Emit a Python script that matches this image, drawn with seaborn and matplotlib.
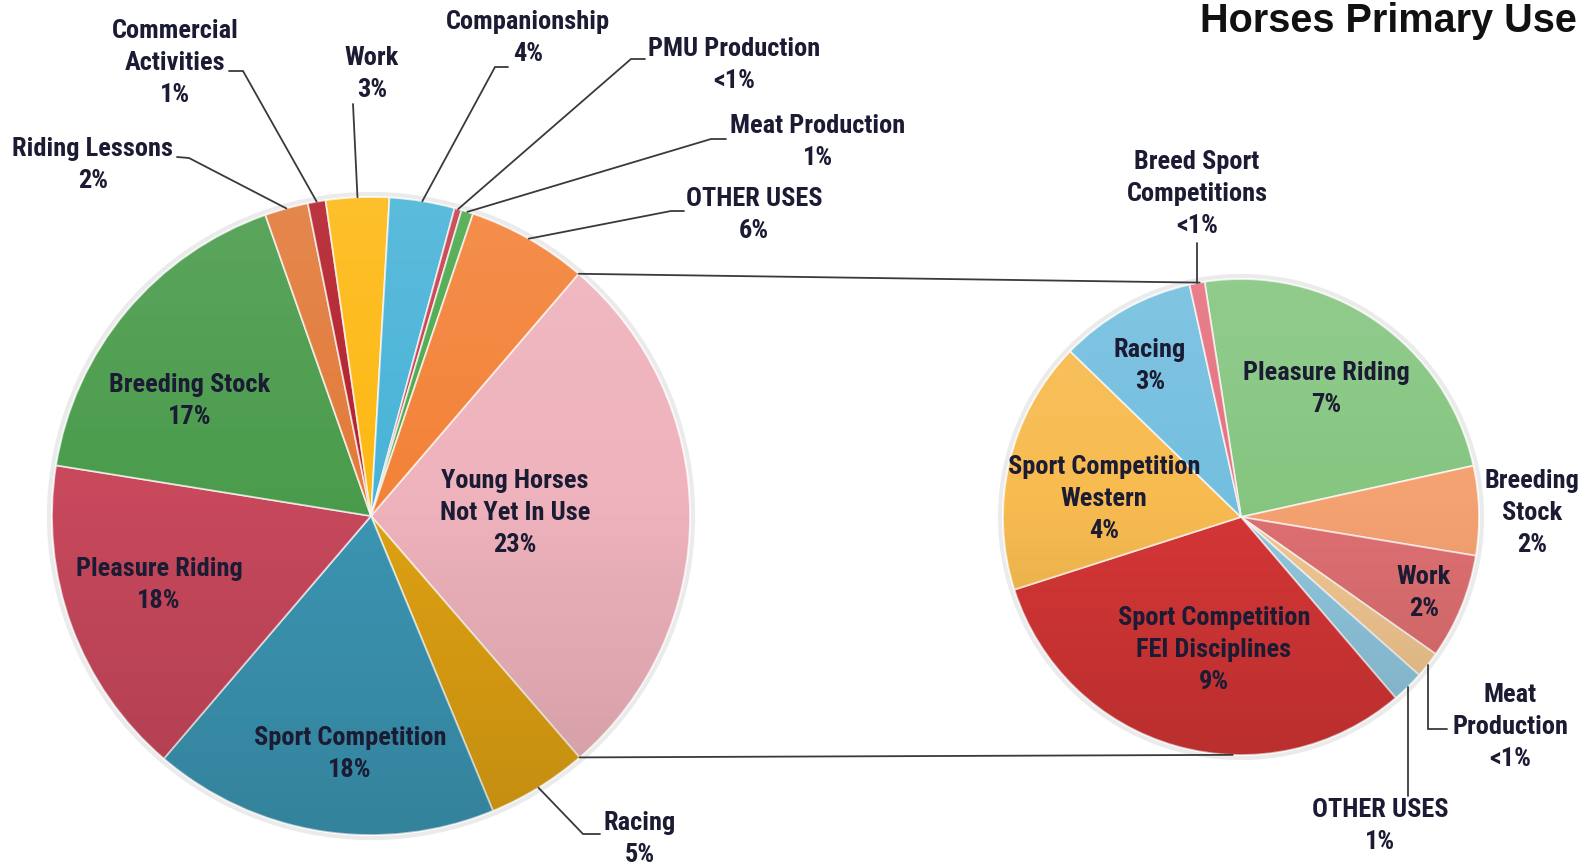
import numpy as np
import matplotlib
matplotlib.use("Agg")
import matplotlib.pyplot as plt
from matplotlib import font_manager
from matplotlib.patches import Circle
import seaborn as sns

# ---------------- data ----------------
left_categories = ["Young Horses\nNot Yet In Use", "Racing", "Sport Competition", "Pleasure Riding",
                   "Breeding Stock", "Riding Lessons", "Commercial\nActivities", "Work",
                   "Companionship", "PMU Production", "Meat Production", "OTHER USES"]
left_values = [27.4, 5.1, 17.5, 16.3, 17.1, 2.2, 0.9, 3.2, 3.3, 0.36, 0.6, 6.1]
left_pct = ["23%", "5%", "18%", "18%", "17%", "2%", "1%", "3%", "4%", "<1%", "1%", "6%"]

right_categories = ["Pleasure Riding", "Breeding\nStock", "Work", "Meat\nProduction", "OTHER USES",
                    "Sport Competition\nFEI Disciplines", "Sport Competition\nWestern", "Racing",
                    "Breed Sport\nCompetitions"]
right_values = [6.57, 1.66, 1.96, 0.49, 0.60, 8.58, 4.71, 2.54, 0.28]
right_pct = ["7%", "2%", "2%", "<1%", "1%", "9%", "4%", "3%", "<1%"]

title = "Horses Primary Use"

# ---------------- style ----------------
sns.set_theme(style="white")

ttf = font_manager.fontManager.ttflist
cond_names = {}
for f in ttf:
    st = str(f.stretch).lower()
    if ("narrow" in f.name.lower() or "condensed" in f.name.lower()
            or st in ("condensed", "semi-condensed", "extra-condensed", "ultra-condensed")
            or (st.isdigit() and int(st) < 500)):
        cond_names.setdefault(f.name, []).append(f)
prefs = ["Liberation Sans Narrow", "Roboto Condensed", "Open Sans Condensed", "Noto Sans Condensed",
         "DejaVu Sans Condensed", "Noto Sans SemiCondensed", "Open Sans SemiCondensed"]
LABEL_FONT, LSTRETCH = "DejaVu Sans", "normal"
chosen = None
for p in prefs:
    if p in cond_names:
        chosen = p
        break
if chosen is None:
    for base in ["Roboto", "Noto Sans", "Open Sans", "DejaVu Sans", "Liberation Sans"]:
        if base in cond_names:
            chosen = base
            break
if chosen is not None:
    LABEL_FONT = chosen
    LSTRETCH = "condensed"
plt.rcParams["font.family"] = [LABEL_FONT, "DejaVu Sans"]

left_colors = sns.color_palette(["#EFB3BD", "#E0A213", "#3C96B3", "#C8485C", "#4B9C4D", "#E27B3B",
                                 "#B3212C", "#FDB914", "#4AB4D8", "#C8404F", "#4DAA4D", "#F38339"])
right_colors = sns.color_palette(["#86C681", "#F5A272", "#E07072", "#F4C892", "#91C8E0", "#D63636",
                                  "#F7BB50", "#74BFDF", "#E67280"])

TXT = "#1B1B33"
LINE = "#3A3A3A"
W, H = 1584, 868


def Y(y):
    return H - y


fig = plt.figure(figsize=(W / 100, H / 100), dpi=100)
ax = fig.add_axes([0, 0, 1, 1])

# label size: fit reference width of "Sport Competition" (~199 px)
probe = ax.text(0, 0, "Sport Competition", fontsize=18, fontweight="bold", fontstretch=LSTRETCH)
fig.canvas.draw()
pw = probe.get_window_extent().width
probe.remove()
LSIZE = float(np.clip(18 * 199.0 / max(pw, 1), 14.5, 19.0))

LC, LR = (371, Y(516)), 319
RC, RR = (1241, Y(517)), 238

wl, _ = ax.pie(left_values, center=LC, radius=LR, startangle=49.4, counterclock=False,
               colors=left_colors, wedgeprops=dict(edgecolor=(1, 1, 1, 0.7), linewidth=1.3))
wr, _ = ax.pie(right_values, center=RC, radius=RR, startangle=98.8, counterclock=False,
               colors=right_colors, wedgeprops=dict(edgecolor=(1, 1, 1, 0.7), linewidth=1.3))

# soft vertical shading (light top, darker bottom) clipped to each pie
t = np.linspace(0, 1, 256)[:, None]
shade = np.zeros((256, 1, 4))
shade[..., :3] = np.where(t < 0.45, 1.0, 0.0)[..., None]
shade[..., 3] = np.where(t < 0.45, 0.10 * (0.45 - t) / 0.45, 0.13 * (t - 0.45) / 0.55)
for c, r in [(LC, LR), (RC, RR)]:
    im = ax.imshow(shade, extent=(c[0] - r, c[0] + r, c[1] - r, c[1] + r), origin="upper",
                   aspect="auto", zorder=2, interpolation="bilinear")
    clip = Circle(c, r, transform=ax.transData)
    im.set_clip_path(clip)
    ax.add_patch(Circle(c, r + 3, facecolor="none", edgecolor=(0, 0, 0, 0.08), lw=3, zorder=0))

ax.set_xlim(0, W)
ax.set_ylim(0, H)
ax.set_aspect("equal", adjustable="box")
ax.axis("off")


def pt(center, r, ang):
    a = np.deg2rad(ang)
    return center[0] + r * np.cos(a), center[1] + r * np.sin(a)


# connector lines between the pies (from the aggregated slice edges)
young = wl[0]
p1 = pt(LC, LR, young.theta2)
p2 = pt(RC, RR, 100)
ax.plot([p1[0], p2[0]], [p1[1], p2[1]], color=LINE, lw=1.3, zorder=1)
p1 = pt(LC, LR, young.theta1)
p2 = pt(RC, RR, -92)
ax.plot([p1[0], p2[0]], [p1[1], p2[1]], color=LINE, lw=1.3, zorder=1)


def label(x, y, s, **kw):
    ax.text(x, Y(y), s, ha="center", va="center", color=TXT, fontsize=LSIZE,
            fontweight="bold", fontstretch=LSTRETCH, linespacing=1.4, zorder=5, **kw)


# inside labels (index -> text centre)
left_inside = {0: (515, 513), 2: (350, 754), 3: (159, 585), 4: (190, 401)}
right_inside = {0: (1326, 389), 2: (1424, 593), 5: (1214, 650), 6: (1104, 499), 7: (1150, 366)}

# outside labels (index -> text centre, knee, edge); x None = vertical from anchor
left_outside = {
    1: ((640, 839), (583, 834), (600, 834)),
    5: ((93, 165), (189, 158), (177, 157)),
    6: ((175, 63), (243, 71), (229, 71)),
    7: ((372, 74), (353, 104), (353, 104)),
    8: ((528, 38), (495, 67), (508, 67)),
    9: ((734, 65), (631, 59), (645, 59)),
    10: ((818, 142), (711, 139), (726, 139)),
    11: ((754, 215), (671, 211), (684, 211)),
}
right_outside = {
    1: ((1532, 513), None, None),
    3: ((1510, 727), (None, 729), (1447, 729)),
    4: ((1380, 826), (None, 796), (None, 796)),
    8: ((1197, 194), (None, 243), (None, 243)),
}

for i, (x, y) in left_inside.items():
    label(x, y, f"{left_categories[i]}\n{left_pct[i]}")
for i, (x, y) in right_inside.items():
    label(x, y, f"{right_categories[i]}\n{right_pct[i]}")


def leaders(wedges, center, r, cats, pcts, layout):
    for i, (tpos, knee, edge) in layout.items():
        label(tpos[0], tpos[1], f"{cats[i]}\n{pcts[i]}")
        if knee is None:
            continue
        w = wedges[i]
        a = pt(center, r, (w.theta1 + w.theta2) / 2)
        kx = a[0] if knee[0] is None else knee[0]
        ex = a[0] if edge[0] is None else edge[0]
        ax.plot([a[0], kx, ex], [a[1], Y(knee[1]), Y(edge[1])], color=LINE, lw=1.3, zorder=4,
                solid_joinstyle="miter")


leaders(wl, LC, LR, left_categories, left_pct, left_outside)
leaders(wr, RC, RR, right_categories, right_pct, right_outside)

ax.text(1577, Y(32), title, ha="right", va="baseline", fontsize=28.5, fontweight="bold",
        family=["Liberation Sans", "DejaVu Sans"], color="#111111")

fig.savefig("out.png", dpi=100)
